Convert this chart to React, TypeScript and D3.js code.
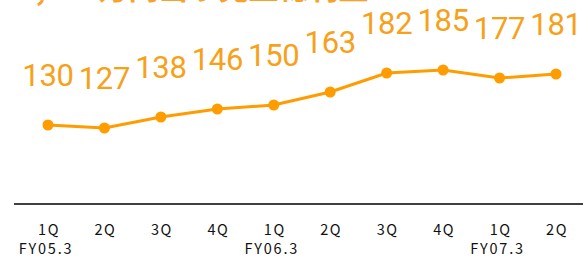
import React, { useEffect, useRef } from 'react';
import * as d3 from 'd3';

// quarters and fiscal years
const quarters = ['1Q', '2Q', '3Q', '4Q', '1Q', '2Q', '3Q', '4Q', '1Q', '2Q'];
const fiscalYears = ['FY05.3', '', '', '', 'FY06.3', '', '', '', 'FY07.3', ''];
const values = [130, 127, 138, 146, 150, 163, 182, 185, 177, 181];
const title = '1,000万円当り売上総利益';

const App = () => {
  const svgRef = useRef<SVGSVGElement>(null);

  useEffect(() => {
    const width = 583;
    const height = 259;
    const orange = '#ff9c00';

    const svg = d3.select(svgRef.current);
    svg.selectAll('*').remove();
    svg.attr('width', width).attr('height', height);

    const idx = d3.range(values.length);

    const x = d3.scalePoint<number>()
      .domain(idx)
      .range([48, 556]);

    const y = d3.scaleLinear()
      .domain([50, 200])
      .range([205, 55]);

    // title (cut off at top in the original too)
    svg.append('text')
      .attr('x', 18)
      .attr('y', -1)
      .attr('font-family', "'Noto Sans CJK JP', sans-serif")
      .attr('font-size', 30)
      .attr('font-weight', 'bold')
      .attr('fill', '#f9a22a')
      .text(title);

    // x axis line
    svg.append('line')
      .attr('x1', 14)
      .attr('x2', width)
      .attr('y1', 204)
      .attr('y2', 204)
      .attr('stroke', '#000')
      .attr('stroke-width', 1.5);

    // line
    const line = d3.line<number>()
      .x(i => x(i)!)
      .y(i => y(values[i]));

    svg.append('path')
      .datum(idx)
      .attr('d', line)
      .attr('fill', 'none')
      .attr('stroke', orange)
      .attr('stroke-width', 3);

    svg.selectAll('.dot')
      .data(idx)
      .enter().append('circle')
      .attr('cx', i => x(i)!)
      .attr('cy', i => y(values[i]))
      .attr('r', 5.5)
      .attr('fill', orange);

    // value labels
    svg.selectAll('.lbl')
      .data(idx)
      .enter().append('text')
      .attr('x', i => x(i)!)
      .attr('y', i => y(values[i]) - 39)
      .attr('text-anchor', 'middle')
      .attr('font-family', 'Roboto, sans-serif')
      .attr('font-size', 31)
      .attr('letter-spacing', -0.3)
      .attr('fill', '#f7a11a')
      .text(i => values[i]);

    // tick labels
    svg.selectAll('.q')
      .data(idx)
      .enter().append('text')
      .attr('x', i => x(i)! + 1)
      .attr('y', 235)
      .attr('text-anchor', 'middle')
      .attr('font-family', "'Noto Sans CJK JP', sans-serif")
      .attr('font-size', 14.5)
      .attr('letter-spacing', 1.5)
      .attr('fill', '#111')
      .text(i => quarters[i]);

    svg.selectAll('.fy')
      .data(idx.filter(i => fiscalYears[i]))
      .enter().append('text')
      .attr('x', i => x(i)! - 2)
      .attr('y', 254)
      .attr('text-anchor', 'middle')
      .attr('font-family', "'Noto Sans CJK JP', sans-serif")
      .attr('font-size', 14.5)
      .attr('letter-spacing', 1.8)
      .attr('fill', '#111')
      .text(i => fiscalYears[i]);
  }, []);

  return (
    <svg ref={svgRef} style={{ position: 'absolute', left: 0, top: 0, background: '#fff' }}></svg>
  );
};

export default App;
